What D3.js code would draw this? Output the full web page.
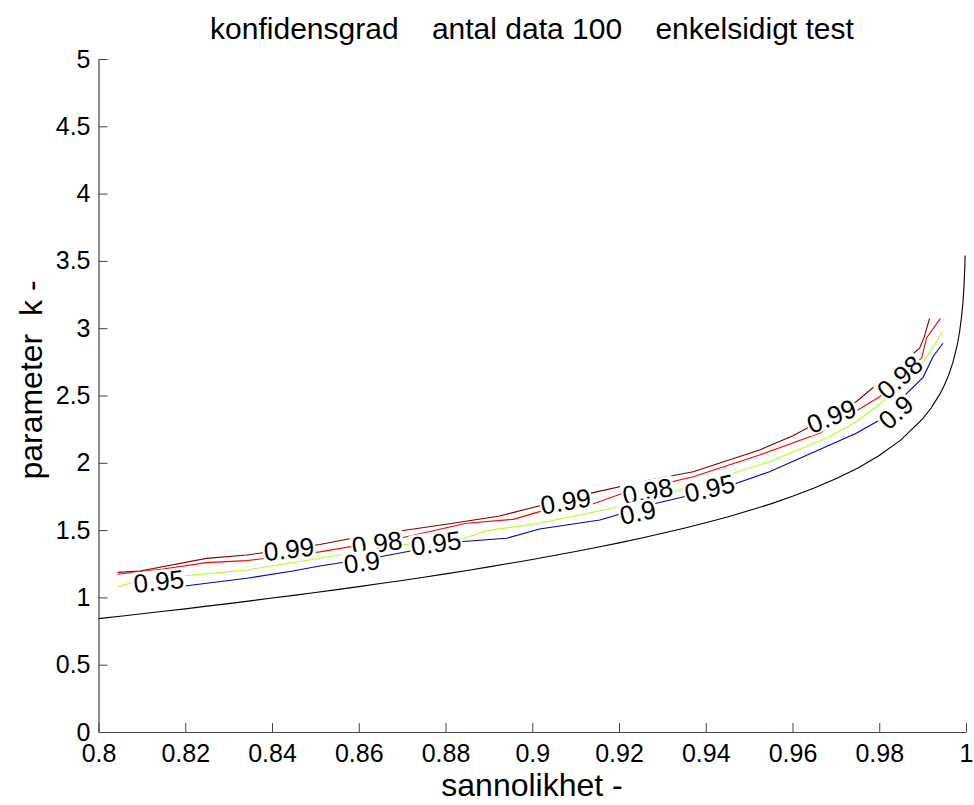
<!DOCTYPE html>
<html>
<head>
<meta charset="utf-8">
<script src="https://cdn.jsdelivr.net/npm/d3@7"></script>
<style>
  html, body { margin: 0; padding: 0; background: #fff; }
  svg { display: block; font-family: "Liberation Sans", Arial, sans-serif; }
</style>
</head>
<body>
<svg id="chart" width="974" height="805"></svg>
<script>
// ---- data ----
const xTickValues = [0.8, 0.82, 0.84, 0.86, 0.88, 0.9, 0.92, 0.94, 0.96, 0.98, 1];
const xTickLabels = ["0.8", "0.82", "0.84", "0.86", "0.88", "0.9", "0.92", "0.94", "0.96", "0.98", "1"];
const yTickValues = [0, 0.5, 1, 1.5, 2, 2.5, 3, 3.5, 4, 4.5, 5];
const yTickLabels = ["0", "0.5", "1", "1.5", "2", "2.5", "3", "3.5", "4", "4.5", "5"];

// black reference curve (sannolikhet -> k)
const pBlack = [0.800,0.805,0.810,0.815,0.820,0.825,0.830,0.835,0.840,0.845,0.850,0.855,0.860,0.865,0.870,0.875,0.880,0.885,0.890,0.895,0.900,0.905,0.910,0.915,0.920,0.925,0.930,0.935,0.940,0.945,0.950,0.955,0.960,0.965,0.970,0.975,0.980,0.985,0.990,0.992,0.994,0.995,0.996,0.997,0.998,0.9985,0.999,0.9993,0.9995,0.9997,0.9998];
const kBlack = [0.842,0.860,0.878,0.897,0.915,0.935,0.954,0.974,0.995,1.015,1.036,1.058,1.080,1.103,1.126,1.150,1.175,1.200,1.227,1.254,1.282,1.311,1.341,1.372,1.405,1.440,1.476,1.514,1.555,1.598,1.645,1.695,1.751,1.812,1.881,1.960,2.054,2.170,2.326,2.409,2.512,2.576,2.652,2.748,2.878,2.968,3.090,3.195,3.291,3.432,3.540];

// konfidensgrad 0.99
const p099 = [0.8044,0.8096,0.8249,0.8342,0.8510,0.8603,0.8802,0.8925,0.9017,0.9133,0.9271,0.9371,0.9524,0.9601,0.9747,0.9870,0.9893,0.9904,0.9916];
const k099 = [1.186,1.196,1.290,1.315,1.393,1.451,1.543,1.605,1.681,1.773,1.872,1.934,2.095,2.201,2.454,2.788,2.851,2.937,3.073];
// konfidensgrad 0.98
const p098 = [0.8044,0.8149,0.8249,0.8342,0.8510,0.8695,0.8848,0.8956,0.9017,0.9133,0.9209,0.9371,0.9524,0.9662,0.9801,0.9877,0.9898,0.9909,0.9941];
const k098 = [1.172,1.211,1.258,1.273,1.338,1.439,1.551,1.580,1.637,1.686,1.773,1.897,2.058,2.219,2.491,2.727,2.779,2.927,3.073];
// konfidensgrad 0.95
const p095 = [0.8044,0.8084,0.8195,0.8342,0.8510,0.8695,0.8833,0.8895,0.9017,0.9209,0.9355,0.9463,0.9547,0.9686,0.9747,0.9854,0.9908,0.9947];
const k095 = [1.080,1.114,1.159,1.204,1.291,1.389,1.426,1.496,1.551,1.679,1.815,1.922,2.008,2.194,2.305,2.565,2.776,2.981];
// konfidensgrad 0.9
const p090 = [0.8115,0.8157,0.8342,0.8448,0.8510,0.8649,0.8833,0.8941,0.9017,0.9156,0.9286,0.9448,0.9547,0.9747,0.9801,0.9901,0.9924,0.9947];
const k090 = [1.058,1.068,1.142,1.196,1.233,1.302,1.414,1.439,1.508,1.575,1.699,1.822,1.934,2.219,2.318,2.635,2.788,2.888];

// contour labels
const labelText = ["0.95","0.99","0.98","0.9","0.95","0.99","0.98","0.9","0.95","0.99","0.98","0.9"];
const labelP = [0.8139,0.8439,0.8642,0.8607,0.8778,0.9077,0.9266,0.9243,0.9409,0.9690,0.9847,0.9838];
const labelK = [1.122,1.360,1.404,1.263,1.404,1.716,1.790,1.634,1.813,2.348,2.637,2.377];
const labelAngle = [-6,-7,-8,-8,-8,-10,-11,-12,-13,-22,-42,-42];

const titleText = "konfidensgrad    antal data 100    enkelsidigt test";
const xLabel = "sannolikhet -";
const yLabel = "parameter  k -";

// ---- chart ----
const svg = d3.select("#chart");
const x = d3.scaleLinear().domain([0.8, 1]).range([98.5, 966]);
const y = d3.scaleLinear().domain([0, 5]).range([732, 59]);

const axisColor = "#444";
const fmtX = d => xTickLabels[xTickValues.indexOf(d)];
const fmtY = d => yTickLabels[yTickValues.indexOf(d)];

const gx = svg.append("g").attr("transform", "translate(0,732)")
  .call(d3.axisBottom(x).tickValues(xTickValues).tickFormat(fmtX)
    .tickSizeInner(-9).tickSizeOuter(0).tickPadding(12));
const gy = svg.append("g").attr("transform", "translate(98.5,0)")
  .call(d3.axisLeft(y).tickValues(yTickValues).tickFormat(fmtY)
    .tickSizeInner(-9).tickSizeOuter(0).tickPadding(8));
[gx, gy].forEach(g => {
  g.select(".domain").attr("stroke", axisColor).attr("stroke-width", 1.2);
  g.selectAll(".tick line").attr("stroke", axisColor);
  g.selectAll(".tick text").attr("fill", "#000").style("font-size", "25px")
    .style("font-family", '"Liberation Sans", Arial, sans-serif');
});

const line = d3.line().x(d => x(d[0])).y(d => y(d[1]));
const series = [
  {p: pBlack, k: kBlack, color: "#000000"},
  {p: p090, k: k090, color: "#0000c0"},
  {p: p095, k: k095, color: "#b4ff1e"},
  {p: p098, k: k098, color: "#ff0000"},
  {p: p099, k: k099, color: "#800000"}
];
series.forEach(s => {
  svg.append("path")
    .datum(s.p.map((p, i) => [p, s.k[i]]))
    .attr("d", line)
    .attr("fill", "none")
    .attr("stroke", s.color)
    .attr("stroke-width", 1.1);
});

// labels with white background breaking the lines
labelText.forEach((t, i) => {
  const g = svg.append("g")
    .attr("transform", `translate(${x(labelP[i])},${y(labelK[i])}) rotate(${labelAngle[i]})`);
  const txt = g.append("text")
    .attr("text-anchor", "middle")
    .attr("dy", "0.36em")
    .style("font-size", "26px")
    .attr("fill", "#000")
    .text(t);
  const bb = txt.node().getBBox();
  g.insert("rect", "text")
    .attr("x", bb.x - 1).attr("y", -11)
    .attr("width", bb.width + 2).attr("height", 22)
    .attr("fill", "#fff");
});

svg.append("text")
  .attr("x", 532).attr("y", 39)
  .attr("text-anchor", "middle")
  .attr("xml:space", "preserve")
  .style("white-space", "pre")
  .style("font-size", "30px")
  .text(titleText);

svg.append("text")
  .attr("x", 532).attr("y", 796)
  .attr("text-anchor", "middle")
  .style("font-size", "32px")
  .text(xLabel);

svg.append("text")
  .attr("transform", "translate(42,380) rotate(-90)")
  .attr("text-anchor", "middle")
  .style("white-space", "pre")
  .style("font-size", "32px")
  .text(yLabel);
</script>
</body>
</html>
